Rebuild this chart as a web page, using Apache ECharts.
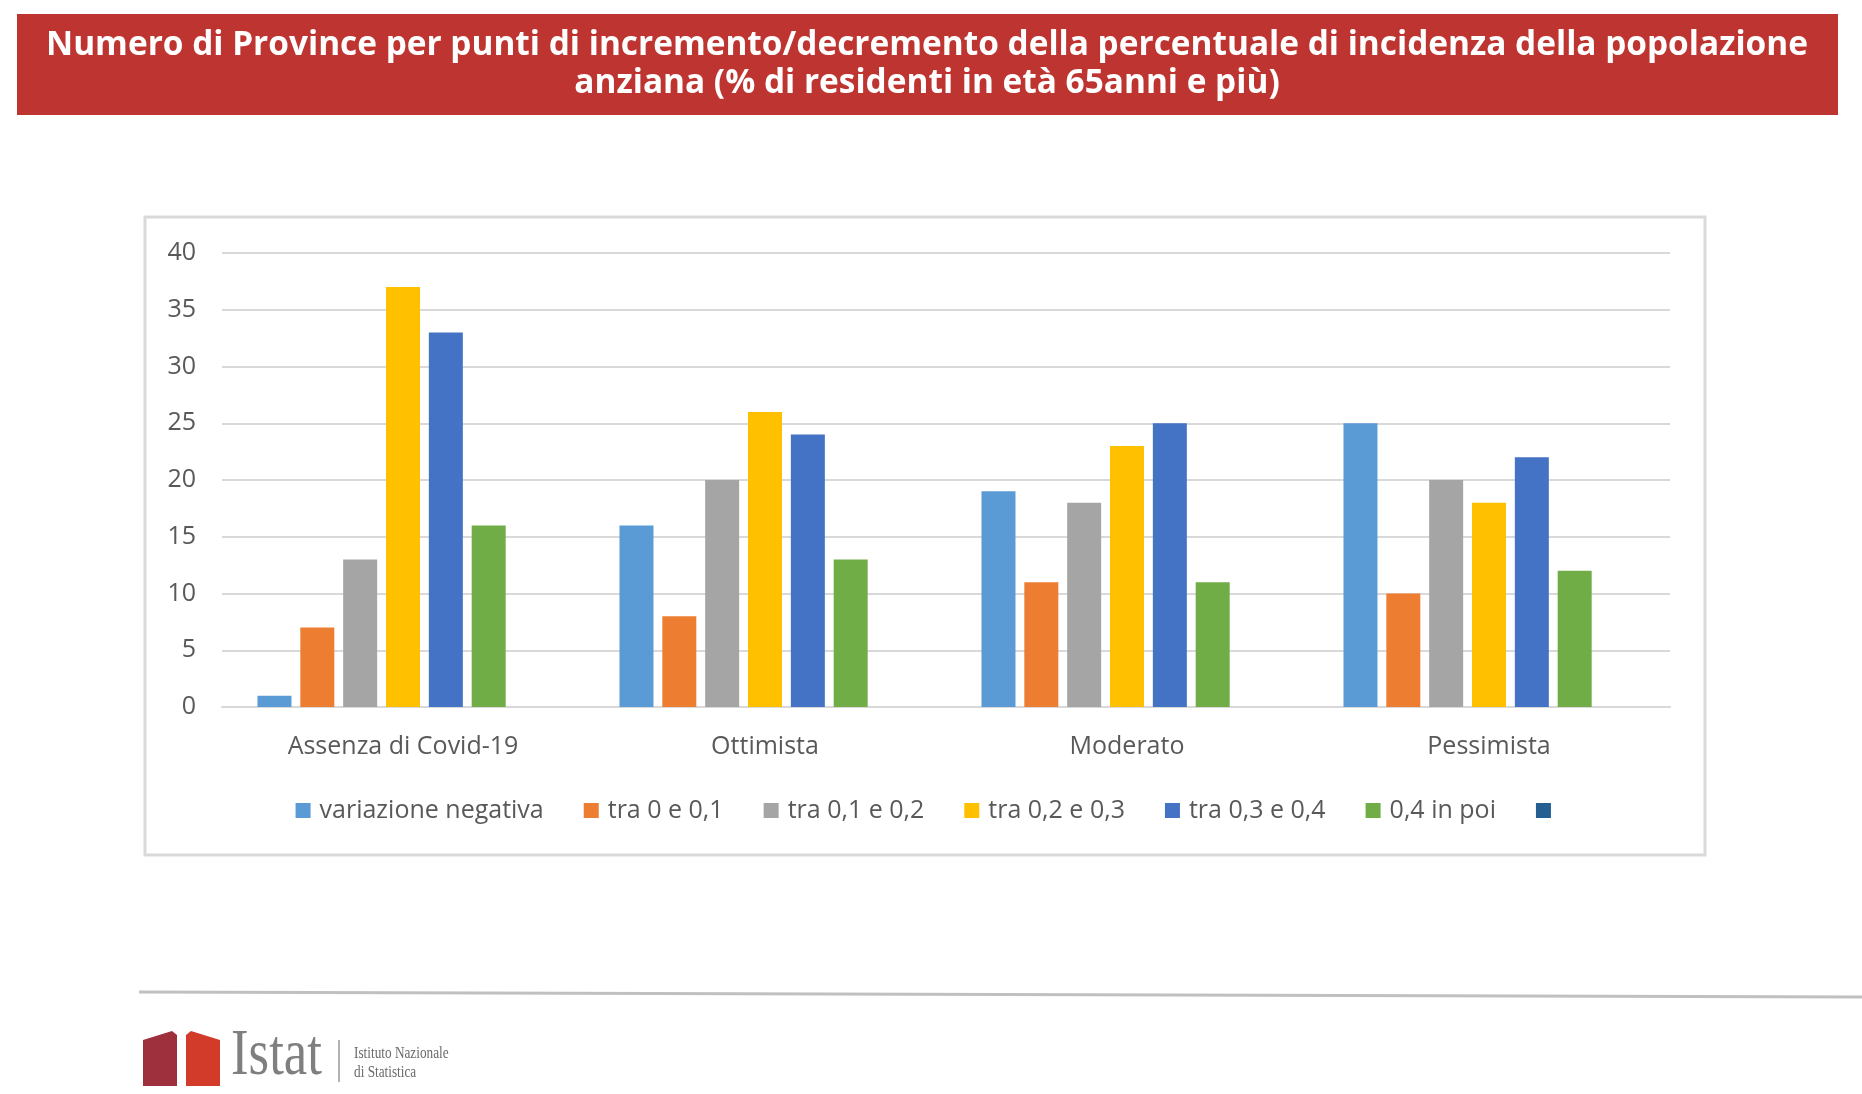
<!DOCTYPE html>
<html><head><meta charset="utf-8">
<script src="https://cdn.jsdelivr.net/npm/echarts@6/dist/echarts.min.js"></script>
<style>html,body{margin:0;padding:0;background:#fff}#c{width:1862px;height:1094px}</style>
</head><body><div id="c"></div>
<script>
const categories = ['Assenza di Covid-19', 'Ottimista', 'Moderato', 'Pessimista'];
const seriesNames = ['variazione negativa', 'tra 0 e 0,1', 'tra 0,1 e 0,2', 'tra 0,2 e 0,3', 'tra 0,3 e 0,4', '0,4 in poi', ' '];
const variazioneNegativa = [1, 16, 19, 25];
const tra0e01 = [7, 8, 11, 10];
const tra01e02 = [13, 20, 18, 20];
const tra02e03 = [37, 26, 23, 18];
const tra03e04 = [33, 24, 25, 22];
const da04inPoi = [16, 13, 11, 12];
const vuota = [null, null, null, null];
const yTicks = { min: 0, max: 40, interval: 5 };
const colors = ['#5B9BD5', '#ED7D31', '#A5A5A5', '#FFC000', '#4472C4', '#70AD47', '#255E91'];
const titleLines = ['Numero di Province per punti di incremento/decremento della percentuale di incidenza della popolazione', 'anziana (% di residenti in età 65anni e più)'];

const seriesData = [variazioneNegativa, tra0e01, tra01e02, tra02e03, tra03e04, da04inPoi, vuota];

// fit title font to target width
const cv = document.createElement('canvas').getContext('2d');
cv.font = 'bold 30px "Open Sans"';
const w30 = cv.measureText(titleLines[0]).width;
const titleSize = Math.min(34, 30 * 1762 / w30);

const chart = echarts.init(document.getElementById('c'));
const txt = '#595959';
chart.setOption({
  animation: false,
  color: colors,
  textStyle: { fontFamily: 'Open Sans' },
  grid: { left: 222, right: 192, top: 253, bottom: 387, containLabel: false },
  xAxis: {
    type: 'category', data: categories,
    axisLine: { lineStyle: { color: '#D9D9D9', width: 2 } },
    axisTick: { show: false },
    axisLabel: { color: txt, fontSize: 25, margin: 27, fontFamily: 'Open Sans' }
  },
  yAxis: {
    type: 'value', min: yTicks.min, max: yTicks.max, interval: yTicks.interval,
    axisLine: { show: false }, axisTick: { show: false },
    axisLabel: { color: txt, fontSize: 25, margin: 26, fontFamily: 'Open Sans' },
    splitLine: { lineStyle: { color: '#D9D9D9', width: 2 } }
  },
  legend: {
    data: seriesNames, left: 'center', top: 793, icon: 'rect',
    itemWidth: 15, itemHeight: 15, itemGap: 40,
    textStyle: { color: txt, fontSize: 25, fontFamily: 'Open Sans', padding: [0, 0, 0, 4] }
  },
  series: seriesNames.map((n, i) => ({
    name: n, type: 'bar', data: seriesData[i], barWidth: 34, barGap: '26%',
    itemStyle: { color: colors[i] }
  })),
  graphic: [
    { type: 'rect', shape: { x: 17, y: 14, width: 1821, height: 101 }, style: { fill: '#BE3430' }, z: 0 },
    { type: 'text', x: 927, y: 64, style: { text: titleLines.join('\n'), fill: '#fff', font: 'bold ' + titleSize.toFixed(1) + 'px "Open Sans"', align: 'center', verticalAlign: 'middle', lineHeight: 38 }, z: 1 },
    { type: 'rect', shape: { x: 145, y: 217, width: 1560, height: 638 }, style: { fill: 'none', stroke: '#D9D9D9', lineWidth: 3 }, z: -1 },
    { type: 'line', shape: { x1: 139, y1: 992, x2: 1862, y2: 997 }, style: { stroke: '#C0C0C0', lineWidth: 3 } },
    { type: 'polygon', shape: { points: [[143, 1040], [172, 1031], [177, 1035], [177, 1086], [143, 1086]] }, style: { fill: '#9E2F3C' } },
    { type: 'polygon', shape: { points: [[186, 1035], [191, 1031], [220, 1040], [220, 1086], [186, 1086]] }, style: { fill: '#D23A29' } },
    { type: 'text', x: 231, y: 1090, scaleX: 0.8, style: { text: 'Istat', fill: '#7F7F7F', font: '66px "Liberation Serif"', verticalAlign: 'bottom' } },
    { type: 'line', shape: { x1: 339, y1: 1040, x2: 339, y2: 1082 }, style: { stroke: '#9a9a9a', lineWidth: 1.5 } },
    { type: 'text', x: 354, y: 1063, scaleX: 0.78, style: { text: 'Istituto Nazionale\ndi Statistica', fill: '#6a6a6a', font: '17px "Liberation Serif"', verticalAlign: 'middle', lineHeight: 19 } }
  ]
});
</script></body></html>
